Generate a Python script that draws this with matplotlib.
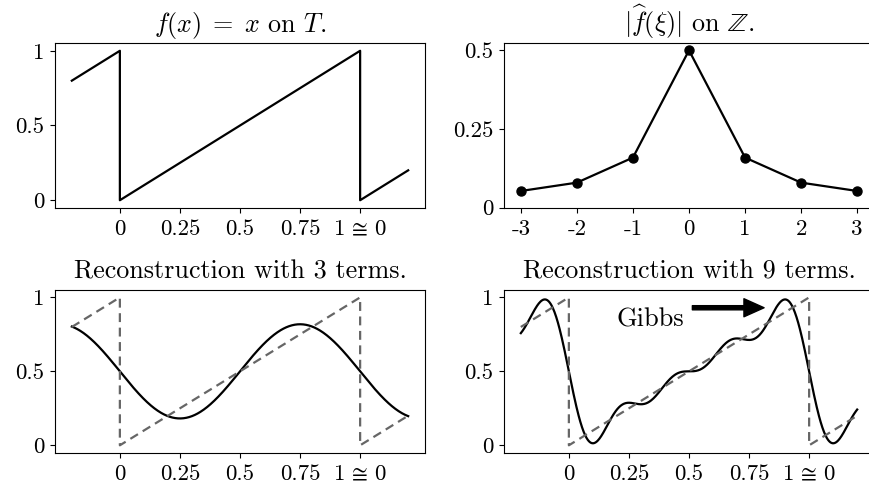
import numpy as np
import matplotlib
matplotlib.use("Agg")
import matplotlib.pyplot as plt

plt.rcParams["font.family"] = "serif"
plt.rcParams["font.serif"] = ["cmr10"]
plt.rcParams["mathtext.fontset"] = "cm"
plt.rcParams["axes.formatter.use_mathtext"] = True
plt.rcParams["font.size"] = 16.5
plt.rcParams["xtick.major.pad"] = 5
plt.rcParams["ytick.major.pad"] = 4

# Sawtooth f(x) = x on the torus, shown on [-0.2, 1.2]
saw_x = [-0.2, 0.0, 0.0, 1.0, 1.0, 1.2]
saw_y = [0.8, 1.0, 0.0, 1.0, 0.0, 0.2]

# Fourier coefficients: frequencies, magnitudes |f^(xi)| and phase factors
xi = [-4, -3, -2, -1, 0, 1, 2, 3, 4]
coef_mag = [0.0398, 0.0531, 0.0796, 0.1592, 0.5, 0.1592, 0.0796, 0.0531, 0.0398]
coef_phase = [-1j, -1j, -1j, -1j, 1, 1j, 1j, 1j, 1j]

shown_xi = [-3, -2, -1, 0, 1, 2, 3]
shown_labels = ["-3", "-2", "-1", "0", "1", "2", "3"]

x_ticks = [0, 0.25, 0.5, 0.75, 1]
x_ticklabels = ["0", "0.25", "0.5", "0.75", r"$1\,\cong\,0$"]

term_counts = [3, 9]

xs = np.linspace(-0.2, 1.2, 600)
xi_arr = np.array(xi)
coefs = np.array(coef_mag) * np.array(coef_phase)


def partial_sum(n_terms):
    k = (n_terms - 1) // 2
    sel = np.abs(xi_arr) <= k
    waves = np.exp(2j * np.pi * np.outer(xs, xi_arr[sel]))
    return (waves @ coefs[sel]).real


W, H = 869, 486
fig = plt.figure(figsize=(W / 100, H / 100), dpi=100)


def px_axes(left, top, right, bottom):
    return fig.add_axes([left / W, 1 - bottom / H, (right - left) / W, (bottom - top) / H])


ax_f = px_axes(55, 43.3, 425, 207.7)
ax_hat = px_axes(504, 43.3, 874, 207.7)
ax_r3 = px_axes(55, 290, 425, 452.7)
ax_r9 = px_axes(504, 290, 874, 452.7)

TITLE_SIZE = 18.8
TITLE_PAD = 8
lw = 1.6

ax_f.plot(saw_x, saw_y, color="black", lw=lw)
ax_f.set_title(r"$f(x)\;=\;x$ on $T$.", fontsize=TITLE_SIZE, pad=TITLE_PAD)

mask = [x in shown_xi for x in xi]
hx = [x for x, m in zip(xi, mask) if m]
hy = [v for v, m in zip(coef_mag, mask) if m]
ax_hat.plot(hx, hy, color="black", lw=lw, marker="o", markersize=6.5)
ax_hat.set_ylim(bottom=0)
ax_hat.set_xticks(shown_xi)
ax_hat.set_xticklabels(shown_labels)
ax_hat.set_yticks([0, 0.25, 0.5])
ax_hat.set_yticklabels(["0", "0.25", "0.5"])
ax_hat.set_title(r"$|\widehat{f}(\xi)|$ on $\mathbb{Z}$.", fontsize=TITLE_SIZE, pad=TITLE_PAD)

for ax, n in zip([ax_r3, ax_r9], term_counts):
    ax.plot(xs, partial_sum(n), color="black", lw=lw)
    ax.plot(saw_x, saw_y, color="#666666", lw=lw, ls=(0, (4, 2.5)))
    ax.set_title(f"Reconstruction with {n} terms.", fontsize=TITLE_SIZE, pad=TITLE_PAD)

for ax in [ax_f, ax_r3, ax_r9]:
    ax.set_xticks(x_ticks)
    ax.set_xticklabels(x_ticklabels)
    ax.set_yticks([0, 0.5, 1])
    ax.set_yticklabels(["0", "0.5", "1"])

ax_r9.text(0.2, 0.80, "Gibbs", va="baseline", ha="left", fontsize=19)
ax_r9.annotate("", xy=(0.8125, 0.93), xytext=(0.514, 0.93),
               arrowprops=dict(facecolor="black", edgecolor="black",
                               width=3, headwidth=13, headlength=14.5, shrink=0))

fig.savefig("out.png", dpi=100)
